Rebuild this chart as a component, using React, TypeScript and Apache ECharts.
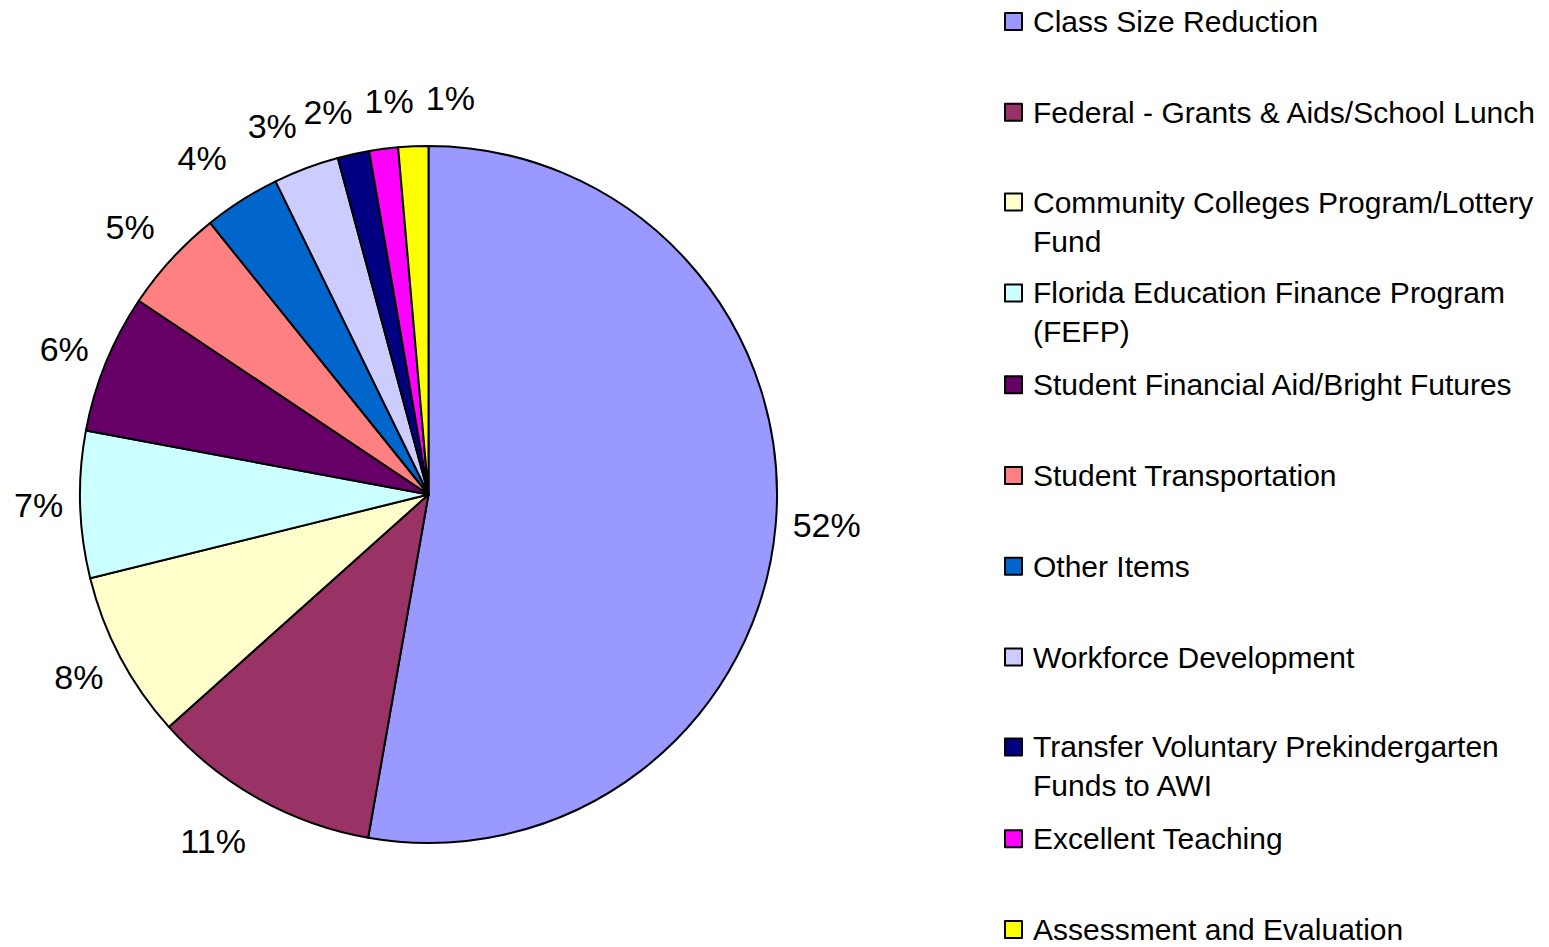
import React, { useEffect, useRef } from 'react';
import * as echarts from 'echarts';

const categories = [
  'Class Size Reduction',
  'Federal - Grants & Aids/School Lunch',
  'Community Colleges Program/Lottery\nFund',
  'Florida Education Finance Program\n(FEFP)',
  'Student Financial Aid/Bright Futures',
  'Student Transportation',
  'Other Items',
  'Workforce Development',
  'Transfer Voluntary Prekindergarten\nFunds to AWI',
  'Excellent Teaching',
  'Assessment and Evaluation',
];

// share of the pie
const shares = [52.77, 10.61, 7.76, 6.8, 6.44, 4.84, 3.55, 3.04, 1.47, 1.33, 1.39];

// percentages as printed on the data labels
const labelPercents = [52, 11, 8, 7, 6, 5, 4, 3, 2, 1, 1];

const colors = [
  '#9999FF', '#993366', '#FFFFCC', '#CCFFFF', '#660066', '#FF8080',
  '#0066CC', '#CCCCFF', '#000080', '#FF00FF', '#FFFF00',
];

const FONT = '"Liberation Sans", Arial, Helvetica, sans-serif';

export default function App() {
  const ref = useRef<HTMLDivElement>(null);

  useEffect(() => {
    if (!ref.current) return;
    const chart = echarts.init(ref.current, undefined, { renderer: 'svg' });

    let placed: { l: number; r: number; t: number; b: number }[] = [];

    const legendFirstCenter = 20.5;
    const legendStep = 90.8;

    const legends = categories.map((name, i) => {
      const twoLines = name.includes('\n');
      const c = legendFirstCenter + legendStep * i;
      return {
        orient: 'vertical',
        left: 1004,
        top: c - (twoLines ? 58.5 : 14),
        padding: 0,
        itemWidth: 17,
        itemHeight: 17,
        icon: 'rect',
        selectedMode: false,
        itemStyle: { borderColor: '#000000', borderWidth: 2 },
        textStyle: {
          fontFamily: FONT,
          fontSize: 30,
          color: '#000000',
          lineHeight: twoLines ? 39 : 28,
          padding: [0, 0, 0, 6],
        },
        formatter: (n: string) => (twoLines ? ' \n' + n : n),
        data: [name],
      };
    });

    const option: any = {
      animation: false,
      backgroundColor: '#ffffff',
      legend: legends,
      series: [
        {
          type: 'pie',
          center: [428.5, 494.5],
          radius: 348.5,
          startAngle: 90,
          clockwise: true,
          avoidLabelOverlap: false,
          silent: true,
          itemStyle: { borderColor: '#000000', borderWidth: 2 },
          label: {
            show: true,
            position: 'outside',
            fontFamily: FONT,
            fontSize: 34,
            color: '#000000',
            formatter: (p: any) => labelPercents[p.dataIndex] + '%',
          },
          labelLine: { show: true, length: 10, length2: 0, lineStyle: { opacity: 0 } },
          labelLayout: (p: any) => {
            if (p.dataIndex === 0) placed = [];
            const pts = p.labelLinePoints;
            if (!pts || pts.length < 2) return {};
            const [x0, y0] = pts[0];
            const [x1, y1] = pts[1];
            let dx = x1 - x0;
            let dy = y1 - y0;
            const n = Math.hypot(dx, dy) || 1;
            dx /= n;
            dy /= n;
            const w = p.labelRect.width;
            const h = p.labelRect.height;
            const fx = 1 - Math.pow(1 - Math.min(1, Math.abs(dx)), 3.9);
            let cx = x0 + Math.sign(dx) * fx * (w / 2 + 17);
            const fy = Math.max(0, Math.min(1, (Math.abs(dy) - 0.15) * 1.45));
            let cy = y0 + Math.sign(dy) * fy * (h / 2 + 25);
            for (const q of placed) {
              const ox = cx - w / 2 < q.r + 2 && cx + w / 2 > q.l - 2;
              const oy = cy - h / 2 < q.b && cy + h / 2 > q.t;
              if (ox && oy && cx >= (q.l + q.r) / 2) {
                cx = q.r + 12 + w / 2;
                cy += dy * 6;
              }
            }
            placed.push({ l: cx - w / 2, r: cx + w / 2, t: cy - h / 2, b: cy + h / 2 });
            return { x: cx, y: cy, align: 'center', verticalAlign: 'middle' };
          },
          data: categories.map((name, i) => ({
            name,
            value: shares[i],
            itemStyle: { color: colors[i] },
          })),
        },
      ],
    };

    chart.setOption(option);
    return () => chart.dispose();
  }, []);

  return (
    <div
      ref={ref}
      style={{ position: 'absolute', left: 0, top: 0, width: 1549, height: 947, background: '#fff' }}
    />
  );
}
